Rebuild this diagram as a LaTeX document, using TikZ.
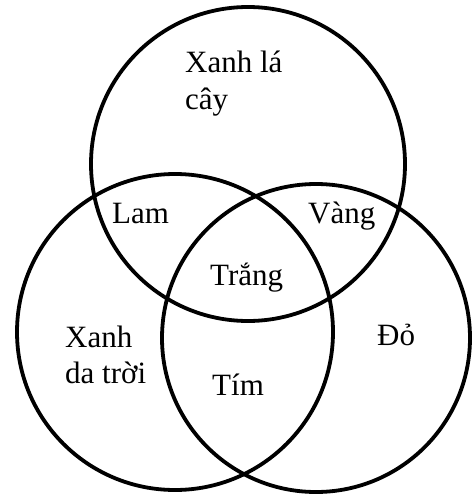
\documentclass[tikz,border=0pt]{standalone}
\usepackage{fontspec}
\setmainfont{Liberation Serif}
\begin{document}
\begin{tikzpicture}[x=1pt,y=-1pt,
  ring/.style={draw=black,line width=3.8pt},
  lbl/.style={anchor=base west,inner sep=0pt,font=\fontsize{31}{37}\selectfont}]
\useasboundingbox[fill=white] (0,0) rectangle (473,500);
\draw[ring] (248,164) circle[radius=157pt];
\draw[ring] (175,332) circle[radius=158pt];
\draw[ring] (316,338) circle[radius=154pt];
\node[lbl] (xanhla) at (185,73) {Xanh lá};
\node[lbl] (cay) at (185,110) {cây};
\node[lbl] (lam) at (112,223) {Lam};
\node[lbl] (vang) at (308,223) {Vàng};
\node[lbl] (trang) at (210,285) {Trắng};
\node[lbl] (xanh) at (65,347) {Xanh};
\node[lbl] (datroi) at (65,383) {da trời};
\node[lbl] (do) at (377,345) {Đỏ};
\node[lbl] (tim) at (212,395) {Tím};
\end{tikzpicture}
\end{document}
